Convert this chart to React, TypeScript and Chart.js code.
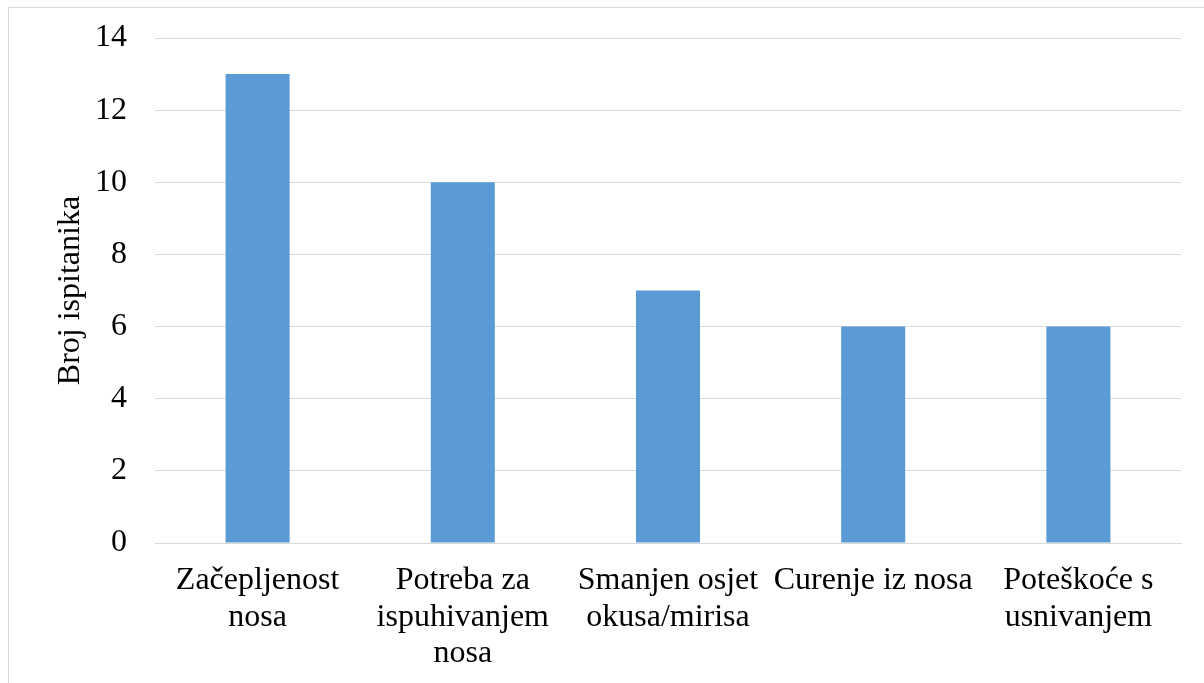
import React, { useEffect, useRef } from "react";
import { Chart, registerables } from "chart.js";

Chart.register(...registerables);

const categories: string[][] = [
  ["Začepljenost", "nosa"],
  ["Potreba za", "ispuhivanjem", "nosa"],
  ["Smanjen osjet", "okusa/mirisa"],
  ["Curenje iz nosa"],
  ["Poteškoće s", "usnivanjem"],
];
const respondents: number[] = [13, 10, 7, 6, 6];
const yTicks: number[] = [0, 2, 4, 6, 8, 10, 12, 14];
const yTitle = "Broj ispitanika";

const FONT = "'Liberation Serif', 'Times New Roman', serif";
const CW = 1198;
const CH = 688;

export default function App() {
  const ref = useRef<HTMLCanvasElement | null>(null);
  useEffect(() => {
    if (!ref.current) return;
    const chart = new Chart(ref.current, {
      type: "bar",
      data: {
        labels: categories,
        datasets: [
          {
            data: respondents,
            backgroundColor: "#5b9bd5",
            borderWidth: 0,
            categoryPercentage: 1,
            barPercentage: 0.312,
          },
        ],
      },
      options: {
        responsive: false,
        animation: false,
        layout: { padding: { left: 0, right: 26, top: 30, bottom: 0 } },
        plugins: {
          legend: { display: false },
          tooltip: { enabled: false },
        },
        scales: {
          x: {
            grid: { display: false, drawTicks: false },
            border: { display: true, color: "#d9d9d9", width: 1 },
            ticks: {
              color: "#000",
              font: { family: FONT, size: 32, lineHeight: 1.13 },
              padding: 20,
              maxRotation: 0,
              autoSkip: false,
            },
            afterFit: (s: any) => {
              s.height = CH - 535;
            },
          },
          y: {
            min: 0,
            max: 14,
            afterBuildTicks: (s: any) => {
              s.ticks = yTicks.map((v) => ({ value: v }));
            },
            grid: { color: "#d9d9d9", lineWidth: 1, drawTicks: false },
            border: { display: false },
            ticks: {
              color: "#000",
              font: { family: FONT, size: 32 },
              padding: 28,
            },
            title: {
              display: true,
              text: yTitle,
              color: "#000",
              font: { family: FONT, size: 32, lineHeight: 1.17 },
              padding: { top: 43, bottom: 0 },
            },
            afterFit: (s: any) => {
              s.width = 146;
              s.paddingTop = 0;
              s.paddingBottom = 0;
            },
          },
        },
      },
    });
    return () => chart.destroy();
  }, []);
  return (
    <div
      style={{
        position: "fixed",
        left: 8,
        top: 7,
        width: CW + 2,
        height: CH + 2,
        border: "1px solid #d9d9d9",
        boxSizing: "border-box",
        background: "#fff",
      }}
    >
      <canvas ref={ref} width={CW} height={CH} style={{ display: "block", width: CW, height: CH }} />
    </div>
  );
}
